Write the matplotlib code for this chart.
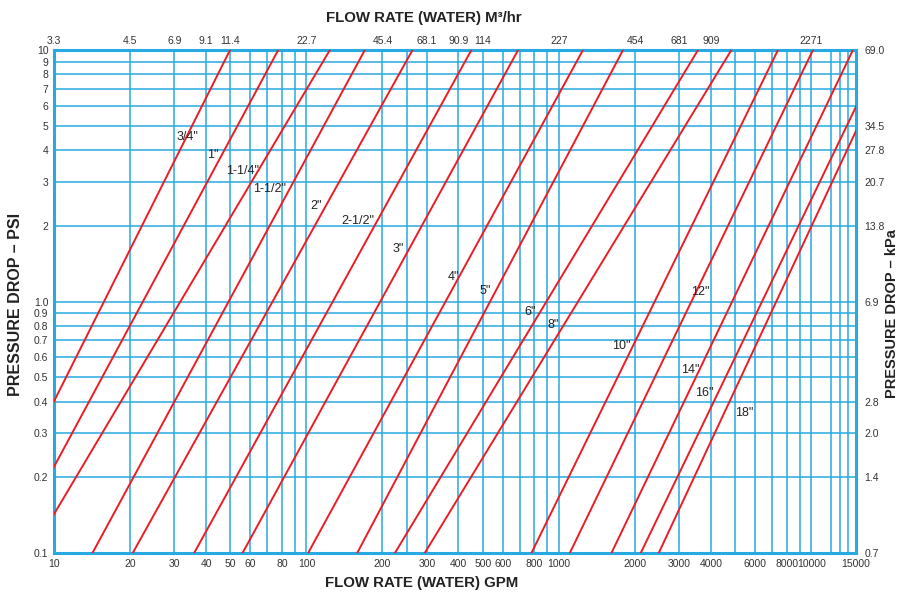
import matplotlib
matplotlib.use("Agg")
import matplotlib.pyplot as plt
from matplotlib.ticker import FixedLocator, FixedFormatter, NullLocator

# pipe sizes and the flow (GPM) each line reaches at 0.1 psi and at 10 psi
pipe_sizes = ['3/4"', '1"', '1-1/4"', '1-1/2"', '2"', '2-1/2"', '3"', '4"',
              '5"', '6"', '8"', '10"', '12"', '14"', '16"', '18"']
gpm_at_low = [5.0, 6.55, 8.1, 14.2, 20.5, 35.9, 55.8, 101.5,
              158.8, 224, 294, 778, 1104, 1614, 2108, 2484]
gpm_at_high = [49.8, 77.3, 123.8, 170.3, 263, 450, 689, 1245,
               1794, 3554, 4819, 7370, 10140, 14600, 19270, 21200]
psi_low, psi_high = 0.1, 10

# where the size labels sit (gpm, psi)
label_gpm = [33.8, 42.7, 55.7, 71.6, 109.2, 159.5, 230.7, 382.5,
             512, 766, 952, 1762, 3620, 3311, 3767, 5426]
label_psi = [4.49, 3.81, 3.31, 2.79, 2.40, 2.09, 1.61, 1.25,
             1.10, 0.908, 0.805, 0.668, 1.09, 0.536, 0.434, 0.361]

# axis ticks
gpm_ticks = [10, 20, 30, 40, 50, 60, 80, 100, 200, 300, 400, 500, 600, 800,
             1000, 2000, 3000, 4000, 6000, 8000, 10000, 15000]
m3hr_ticks = [10, 20, 30, 40, 50, 100, 200, 300, 400, 500, 1000, 2000, 3000, 4000, 10000]
m3hr_labels = ['3.3', '4.5', '6.9', '9.1', '11.4', '22.7', '45.4', '68.1', '90.9',
               '114', '227', '454', '681', '909', '2271']
psi_ticks = [0.1, 0.2, 0.3, 0.4, 0.5, 0.6, 0.7, 0.8, 0.9, 1, 2, 3, 4, 5, 6, 7, 8, 9, 10]
psi_labels = ['0.1', '0.2', '0.3', '0.4', '0.5', '0.6', '0.7', '0.8', '0.9', '1.0',
              '2', '3', '4', '5', '6', '7', '8', '9', '10']
kpa_ticks = [0.1, 0.2, 0.3, 0.4, 1, 2, 3, 4, 5, 10]
kpa_labels = ['0.7', '1.4', '2.0', '2.8', '6.9', '13.8', '20.7', '27.8', '34.5', '69.0']

grid_gpm = ([10, 20, 30, 40, 50, 60, 70, 80, 90, 100, 200, 250, 300, 400, 500, 600, 700,
             800, 900, 1000, 2000, 3000, 4000, 5000, 6000, 7000, 8000, 9000, 10000,
             12000, 13000, 14000])

BLUE = "#27a9e1"
RED = "#ec1c24"
TXT = "#333333"
DARK = "#222222"

plt.rcParams['font.family'] = ['Liberation Sans', 'DejaVu Sans']

fig = plt.figure(figsize=(9, 5.96), dpi=100)
ax = fig.add_axes([0.06, 0.0721, 0.891, 0.844])
ax.set_xscale('log')
ax.set_yscale('log')
ax.set_xlim(10, 15000)
ax.set_ylim(0.1, 10)

for g in grid_gpm:
    ax.axvline(g, color=BLUE, lw=1.1, zorder=1)
for p in psi_ticks:
    ax.axhline(p, color=BLUE, lw=1.1, zorder=1)

for lo, hi in zip(gpm_at_low, gpm_at_high):
    ax.plot([lo, hi], [psi_low, psi_high], color=RED, lw=1.4, zorder=3)

for name, q, p in zip(pipe_sizes, label_gpm, label_psi):
    ax.text(q, p, name, ha='center', va='center', fontsize=9, color=DARK, zorder=4)

for s in ax.spines.values():
    s.set_color(BLUE)
    s.set_linewidth(2.2)

ax.xaxis.set_major_locator(FixedLocator(gpm_ticks))
ax.xaxis.set_major_formatter(FixedFormatter([str(t) for t in gpm_ticks]))
ax.xaxis.set_minor_locator(NullLocator())
ax.yaxis.set_major_locator(FixedLocator(psi_ticks))
ax.yaxis.set_major_formatter(FixedFormatter(psi_labels))
ax.yaxis.set_minor_locator(NullLocator())
ax.tick_params(length=0, labelsize=7.5, labelcolor=TXT, pad=4)

top = ax.twiny()
top.set_xscale('log')
top.set_xlim(ax.get_xlim())
top.xaxis.set_major_locator(FixedLocator(m3hr_ticks))
top.xaxis.set_major_formatter(FixedFormatter(m3hr_labels))
top.xaxis.set_minor_locator(NullLocator())
top.tick_params(length=0, labelsize=7.5, labelcolor=TXT, pad=3)
for s in top.spines.values():
    s.set_visible(False)

right = ax.twinx()
right.set_yscale('log')
right.set_ylim(ax.get_ylim())
right.yaxis.set_major_locator(FixedLocator(kpa_ticks))
right.yaxis.set_major_formatter(FixedFormatter(kpa_labels))
right.yaxis.set_minor_locator(NullLocator())
right.tick_params(length=0, labelsize=7.5, labelcolor=TXT, pad=6)
for s in right.spines.values():
    s.set_visible(False)

fig.text(0.471, 0.97, "FLOW RATE (WATER) M³/hr", ha='center', va='center',
         fontsize=10.8, fontweight='bold', color=DARK)
fig.text(0.469, 0.022, "FLOW RATE (WATER) GPM", ha='center', va='center',
         fontsize=10.8, fontweight='bold', color=DARK)
fig.text(0.017, 0.49, "PRESSURE DROP – PSI", ha='center', va='center', rotation=90,
         fontsize=11.5, fontweight='bold', color=DARK)
fig.text(0.9915, 0.4745, "PRESSURE DROP – kPa", ha='center', va='center', rotation=90,
         fontsize=10.5, fontweight='bold', color=DARK)

fig.savefig("out.png", dpi=100)
